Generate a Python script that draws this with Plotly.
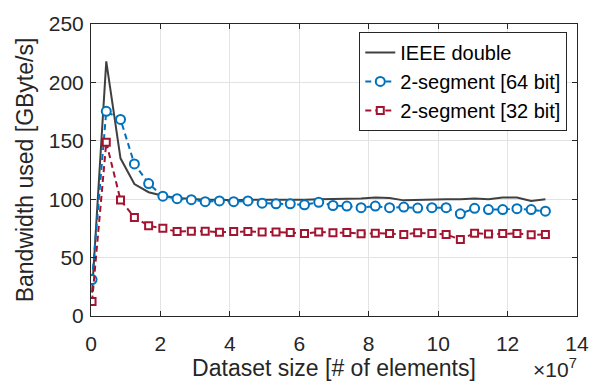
import plotly.graph_objects as go

dataset_size = [0.3e6, 4.4e6, 8.5e6, 12.5e6, 16.6e6, 20.7e6, 24.8e6, 28.9e6, 32.9e6,
                37.0e6, 41.1e6, 45.2e6, 49.3e6, 53.3e6, 57.4e6, 61.5e6, 65.6e6, 69.7e6,
                73.7e6, 77.8e6, 81.9e6, 86.0e6, 90.1e6, 94.1e6, 98.2e6, 102.3e6, 106.4e6,
                110.5e6, 114.5e6, 118.6e6, 122.7e6, 126.8e6, 130.9e6]

ieee_double = [20, 218, 135, 113, 106, 103, 101, 100, 99.5, 99.5, 99, 99.5, 99.5, 99,
               99.5, 99.5, 100, 100, 100.5, 100.5, 101.5, 101, 99, 99.5, 100, 100, 100,
               100.5, 100, 101.5, 101.5, 98.5, 100]

seg64 = [31.2, 175.2, 168.3, 130.2, 113.4, 102.6, 100.4, 99.6, 97.9, 98.5, 97.9, 98.5,
         96.6, 96.0, 96.0, 95.2, 97.4, 94.6, 94.1, 92.7, 94.1, 92.7, 93.3, 92.4, 92.7,
         92.7, 87.5, 92.2, 91.1, 91.1, 91.9, 91.1, 89.7]

seg32 = [12.4, 148.7, 99.3, 84.4, 77.3, 75.1, 72.3, 72.6, 72.6, 71.8, 72.3, 72.3, 72.0,
         72.0, 71.5, 70.6, 72.0, 71.2, 71.5, 70.4, 70.9, 70.6, 69.8, 71.2, 70.6, 69.8,
         65.4, 70.9, 70.1, 70.6, 70.6, 69.5, 69.8]

x_tick_vals = [0, 2e7, 4e7, 6e7, 8e7, 10e7, 12e7, 14e7]
x_tick_text = ["0", "2", "4", "6", "8", "10", "12", "14"]
y_tick_vals = [0, 50, 100, 150, 200, 250]

FONT = "Liberation Sans, Arial, sans-serif"
BLUE = "#0072BD"
RED = "#A2142F"
DARK = "#404040"
AXC = "#262626"

fig = go.Figure()
fig.add_trace(go.Scatter(x=dataset_size, y=ieee_double, mode="lines", name="IEEE double",
                         line=dict(color=DARK, width=2)))
fig.add_trace(go.Scatter(x=dataset_size, y=seg64, mode="lines+markers", name="2-segment [64 bit]",
                         line=dict(color=BLUE, width=2, dash="6px,4px"),
                         marker=dict(symbol="circle", size=9, color="white",
                                     line=dict(width=2, color=BLUE))))
fig.add_trace(go.Scatter(x=dataset_size, y=seg32, mode="lines+markers", name="2-segment [32 bit]",
                         line=dict(color=RED, width=2, dash="6px,4px"),
                         marker=dict(symbol="square", size=7, color="white",
                                     line=dict(width=2, color=RED))))

axis_common = dict(showline=True, linecolor=AXC, linewidth=1, mirror="ticks",
                   ticks="inside", ticklen=5, tickcolor=AXC, showgrid=True,
                   gridcolor="#e3e3e3", gridwidth=1, zeroline=False,
                   tickfont=dict(family=FONT, size=21, color=AXC))

fig.update_xaxes(range=[0, 14e7], tickvals=x_tick_vals, ticktext=x_tick_text,
                 title=dict(text="Dataset size [# of elements]", standoff=0,
                            font=dict(family=FONT, size=23, color=AXC)),
                 ticklabelstandoff=9, **axis_common)
fig.update_yaxes(range=[0, 250], tickvals=y_tick_vals,
                 title=dict(text="Bandwidth used [GByte/s]", standoff=8,
                            font=dict(family=FONT, size=23, color=AXC)),
                 ticklabelstandoff=2, **axis_common)

fig.add_annotation(text="×10<sup>7</sup>", xref="paper", yref="paper", x=1.005, y=-0.179,
                   xanchor="right", yanchor="middle", showarrow=False,
                   font=dict(family=FONT, size=21, color=AXC))

fig.update_layout(
    width=601, height=385,
    margin=dict(l=91, r=13, t=14, b=69),
    paper_bgcolor="white", plot_bgcolor="white",
    font=dict(family=FONT, size=21, color=AXC),
    showlegend=True,
    legend=dict(x=0.98, y=0.973, xanchor="right", yanchor="top",
                bgcolor="white", bordercolor=AXC, borderwidth=1,
                font=dict(family=FONT, size=20, color="black"),
                itemwidth=30, tracegroupgap=0),
)

fig.write_html("out.html")
